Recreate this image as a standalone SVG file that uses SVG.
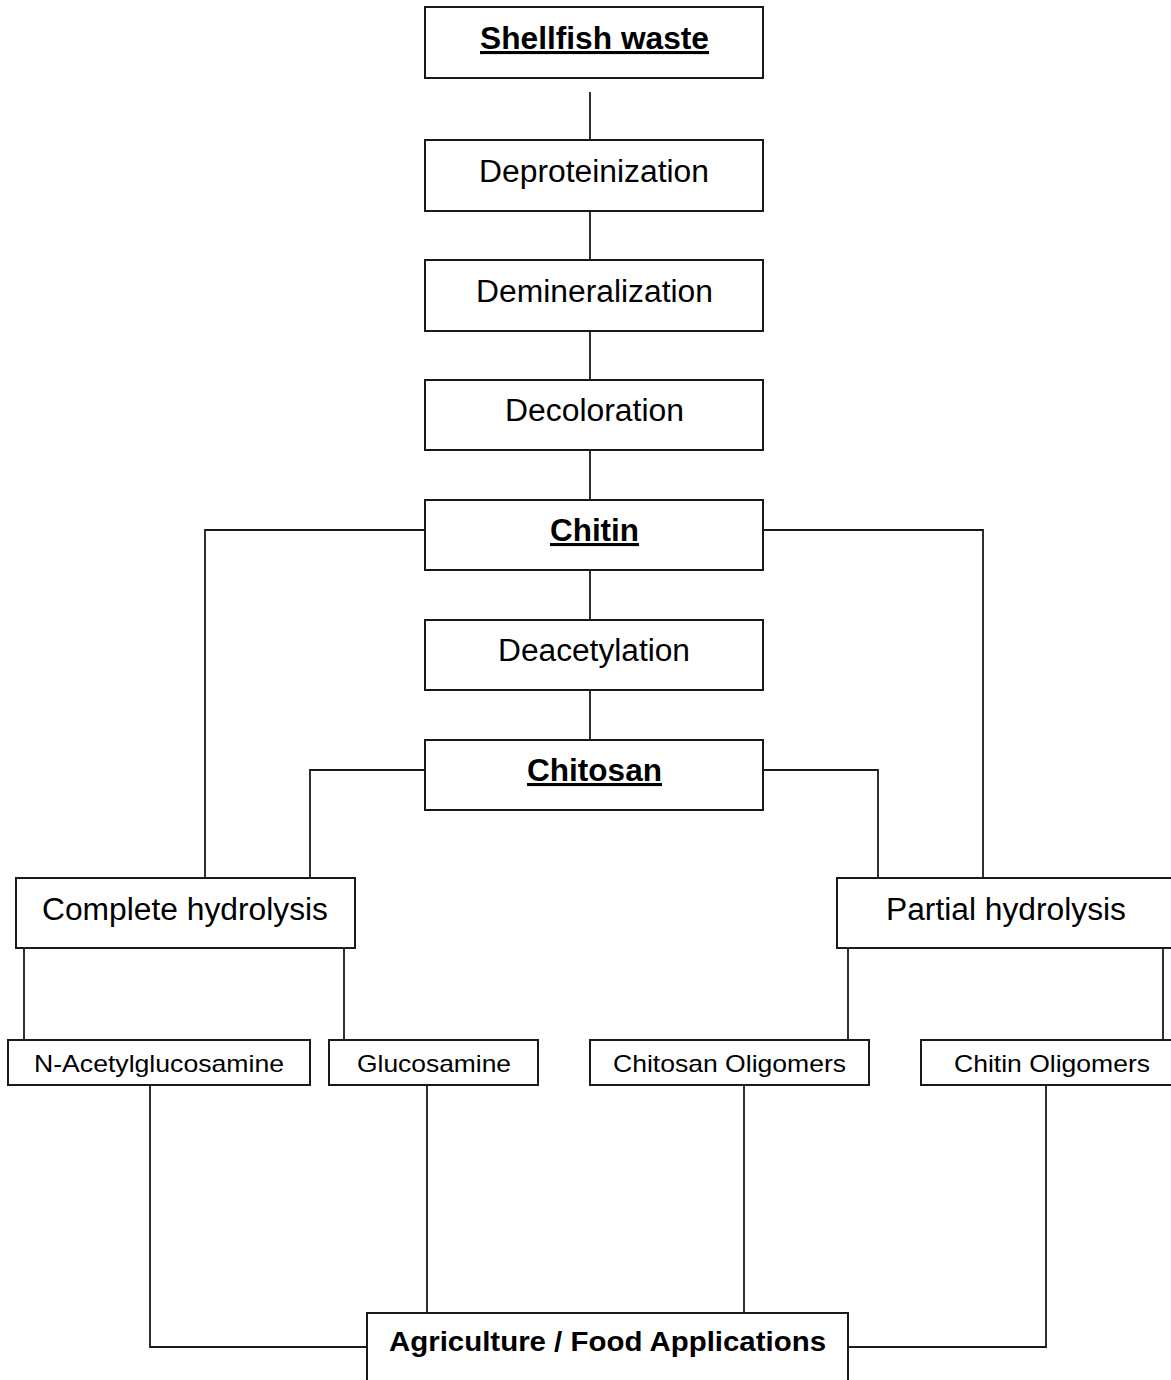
<svg xmlns="http://www.w3.org/2000/svg" width="1171" height="1380" viewBox="0 0 1171 1380">
<style>
.box{fill:#fff;stroke:#1a1a1a;stroke-width:2}
.ln{fill:none;stroke:#1a1a1a;stroke-width:1.8}
text{font-family:"Liberation Sans",Arial,sans-serif;fill:#000;text-anchor:middle}
.big{font-size:31px}
.bold{font-size:31px;font-weight:bold;text-decoration:underline}
.sm{font-size:24px}
.app{font-size:28px;font-weight:bold}
</style>
<rect width="1171" height="1380" fill="#fff"/>
<g id="connectors">
<path class="ln" d="M590 92V140M590 211V260M590 331V380M590 450V500M590 570V620M590 690V740"/>
<path class="ln" d="M425 530H205V878M763 530H983V878"/>
<path class="ln" d="M425 770H310V878M763 770H878V878"/>
<path class="ln" d="M24 948V1040M344 948V1040M848 948V1040M1163 948V1040"/>
<path class="ln" d="M150 1085V1347H367M427 1085V1313M744 1085V1313M1046 1085V1347H848"/>
</g>
<g id="shellfish"><rect class="box" x="425" y="7" width="338" height="71"/><text class="bold" x="594.5" y="49" textLength="229" lengthAdjust="spacingAndGlyphs">Shellfish waste</text></g>
<g id="deproteinization"><rect class="box" x="425" y="140" width="338" height="71"/><text class="big" x="594" y="182" textLength="230" lengthAdjust="spacingAndGlyphs">Deproteinization</text></g>
<g id="demineralization"><rect class="box" x="425" y="260" width="338" height="71"/><text class="big" x="594.5" y="302" textLength="237" lengthAdjust="spacingAndGlyphs">Demineralization</text></g>
<g id="decoloration"><rect class="box" x="425" y="380" width="338" height="70"/><text class="big" x="594.5" y="421" textLength="179" lengthAdjust="spacingAndGlyphs">Decoloration</text></g>
<g id="chitin"><rect class="box" x="425" y="500" width="338" height="70"/><text class="bold" x="594.5" y="541" textLength="89" lengthAdjust="spacingAndGlyphs">Chitin</text></g>
<g id="deacetylation"><rect class="box" x="425" y="620" width="338" height="70"/><text class="big" x="594" y="661" textLength="192" lengthAdjust="spacingAndGlyphs">Deacetylation</text></g>
<g id="chitosan"><rect class="box" x="425" y="740" width="338" height="70"/><text class="bold" x="594.5" y="781" textLength="135" lengthAdjust="spacingAndGlyphs">Chitosan</text></g>
<g id="complete"><rect class="box" x="16" y="878" width="339" height="70"/><text class="big" x="185" y="920" textLength="286" lengthAdjust="spacingAndGlyphs">Complete hydrolysis</text></g>
<g id="partial"><rect class="box" x="837" y="878" width="340" height="70"/><text class="big" x="1006" y="920" textLength="240" lengthAdjust="spacingAndGlyphs">Partial hydrolysis</text></g>
<g id="nacetyl"><rect class="box" x="8" y="1040" width="302" height="45"/><text class="sm" x="159" y="1072" textLength="250" lengthAdjust="spacingAndGlyphs">N-Acetylglucosamine</text></g>
<g id="glucosamine"><rect class="box" x="329" y="1040" width="209" height="45"/><text class="sm" x="434" y="1072" textLength="154" lengthAdjust="spacingAndGlyphs">Glucosamine</text></g>
<g id="chitosanolig"><rect class="box" x="590" y="1040" width="279" height="45"/><text class="sm" x="729.5" y="1072" textLength="233" lengthAdjust="spacingAndGlyphs">Chitosan Oligomers</text></g>
<g id="chitinolig"><rect class="box" x="921" y="1040" width="260" height="45"/><text class="sm" x="1052" y="1072" textLength="196" lengthAdjust="spacingAndGlyphs">Chitin Oligomers</text></g>
<g id="applications"><rect class="box" x="367" y="1313" width="481" height="80"/><text class="app" x="607.5" y="1351" textLength="437" lengthAdjust="spacingAndGlyphs">Agriculture / Food Applications</text></g>
</svg>
